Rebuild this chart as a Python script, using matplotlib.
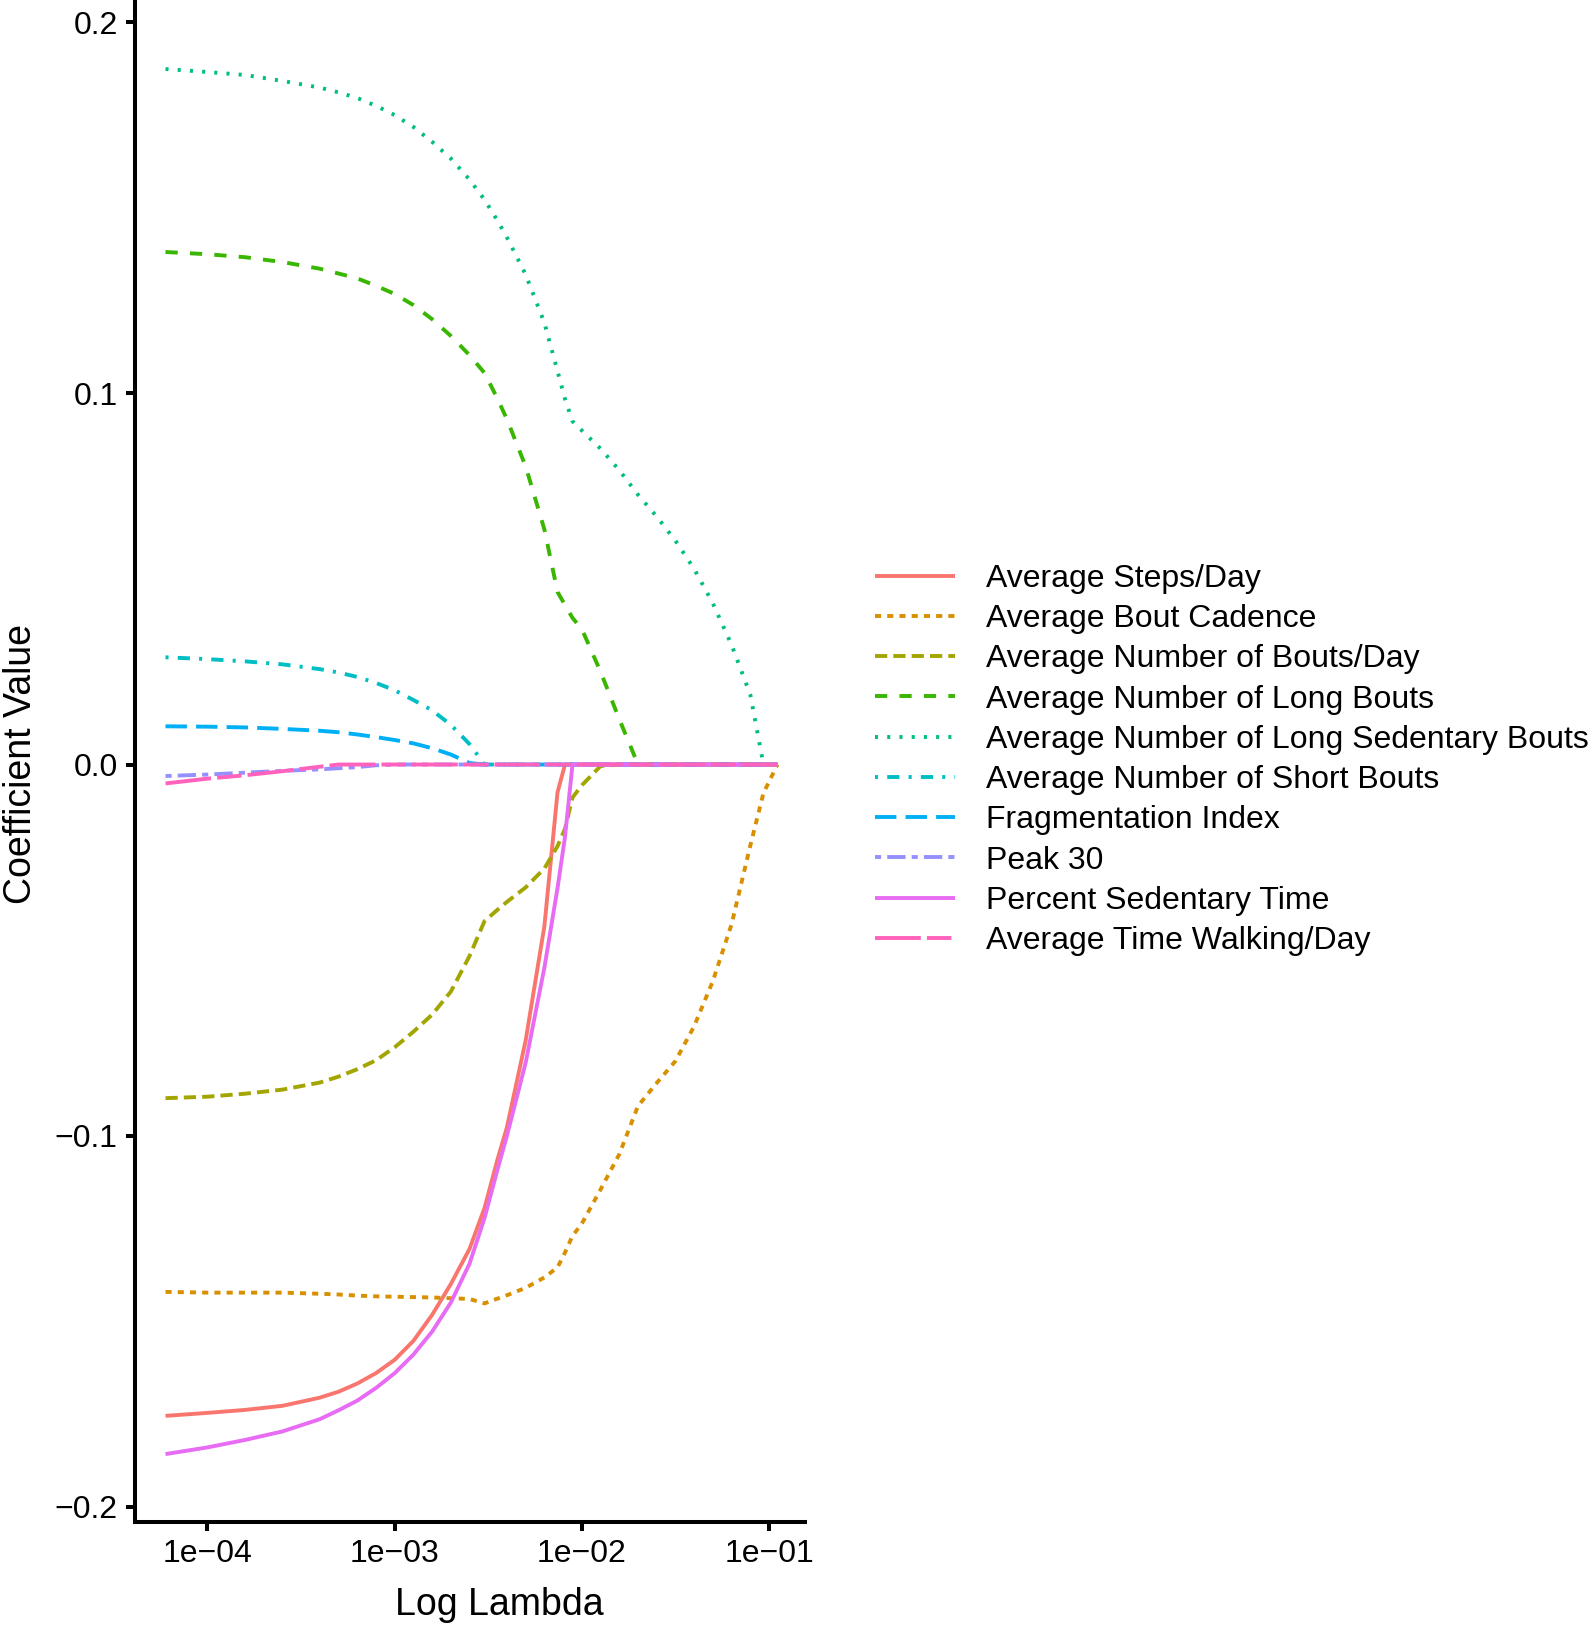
import matplotlib
matplotlib.use("Agg")
import matplotlib.pyplot as plt
import numpy as np

plt.rcParams['font.family'] = ['Liberation Sans', 'DejaVu Sans']
plt.rcParams['lines.scale_dashes'] = False

# ---- data -------------------------------------------------------------
lambdas = [5.97e-5, 1.0e-4, 1.585e-4, 2.512e-4, 3.981e-4, 5.012e-4, 6.31e-4,
           7.943e-4, 1.0e-3, 1.259e-3, 1.585e-3, 1.995e-3, 2.512e-3, 3.020e-3,
           3.548e-3, 3.981e-3, 5.012e-3, 6.31e-3, 7.413e-3, 8.128e-3, 8.913e-3,
           1.0e-2, 1.259e-2, 1.585e-2, 1.995e-2, 2.512e-2, 3.162e-2, 3.981e-2,
           5.012e-2, 6.31e-2, 7.943e-2, 9.333e-2, 1.109e-1]

labels = ["Average Steps/Day", "Average Bout Cadence", "Average Number of Bouts/Day",
          "Average Number of Long Bouts", "Average Number of Long Sedentary Bouts",
          "Average Number of Short Bouts", "Fragmentation Index", "Peak 30",
          "Percent Sedentary Time", "Average Time Walking/Day"]

steps_day = [-0.1755, -0.1747, -0.1739, -0.1728, -0.1706, -0.1690, -0.1668,
             -0.1640, -0.1604, -0.1553, -0.1483, -0.1400, -0.1305, -0.1195,
             -0.1063, -0.0977, -0.0743, -0.0435, -0.0075, 0.0, 0.0,
             0.0, 0.0, 0.0, 0.0, 0.0, 0.0, 0.0, 0.0, 0.0, 0.0, 0.0, 0.0]
bout_cadence = [-0.1421, -0.1423, -0.1423, -0.1423, -0.1426, -0.1428, -0.1431,
                -0.1433, -0.1434, -0.1435, -0.1436, -0.1438, -0.1440, -0.1452,
                -0.1439, -0.1430, -0.1410, -0.1382, -0.1355, -0.1315, -0.1270,
                -0.1237, -0.1145, -0.1050, -0.0920, -0.0858, -0.0799, -0.0705,
                -0.0583, -0.0430, -0.0218, -0.0077, 0.0]
bouts_day = [-0.0899, -0.0895, -0.0887, -0.0876, -0.0857, -0.0841, -0.0821,
             -0.0797, -0.0762, -0.0720, -0.0674, -0.0612, -0.0516, -0.0422,
             -0.0391, -0.0370, -0.0331, -0.0280, -0.0220, -0.0173, -0.0089,
             -0.0056, -0.0004, 0.0, 0.0, 0.0, 0.0, 0.0, 0.0, 0.0, 0.0, 0.0, 0.0]
long_bouts = [0.1381, 0.1375, 0.1367, 0.1354, 0.1336, 0.1323, 0.1310,
              0.1290, 0.1268, 0.1238, 0.1200, 0.1155, 0.1103, 0.1055,
              0.0985, 0.0930, 0.0803, 0.0633, 0.0465, 0.0430, 0.0395,
              0.0365, 0.0250, 0.0122, 0.0, 0.0, 0.0, 0.0, 0.0, 0.0, 0.0, 0.0, 0.0]
long_sed_bouts = [0.1874, 0.1866, 0.1858, 0.1842, 0.1824, 0.1811, 0.1796,
                  0.1775, 0.1750, 0.1718, 0.1678, 0.1633, 0.1576, 0.1522,
                  0.1465, 0.1420, 0.1320, 0.1190, 0.1060, 0.0985, 0.0925,
                  0.0900, 0.0851, 0.0793, 0.0727, 0.0668, 0.0603, 0.0527,
                  0.0434, 0.0322, 0.0188, 0.0, 0.0]
short_bouts = [0.0289, 0.0284, 0.0278, 0.0270, 0.0257, 0.0248, 0.0236,
               0.0220, 0.0200, 0.0174, 0.0146, 0.0107, 0.0055, 0.0,
               0.0, 0.0, 0.0, 0.0, 0.0, 0.0, 0.0, 0.0, 0.0, 0.0, 0.0, 0.0,
               0.0, 0.0, 0.0, 0.0, 0.0, 0.0, 0.0]
fragmentation = [0.0103, 0.0102, 0.0100, 0.0096, 0.0091, 0.0087, 0.0081,
                 0.0074, 0.0066, 0.0057, 0.0044, 0.0027, 0.0004, 0.0,
                 0.0, 0.0, 0.0, 0.0, 0.0, 0.0, 0.0, 0.0, 0.0, 0.0, 0.0, 0.0,
                 0.0, 0.0, 0.0, 0.0, 0.0, 0.0, 0.0]
peak30 = [-0.0031, -0.0027, -0.0022, -0.0017, -0.0013, -0.0010, -0.0007,
          -0.0002, 0.0, 0.0, 0.0, 0.0, 0.0, 0.0, 0.0, 0.0, 0.0, 0.0, 0.0,
          0.0, 0.0, 0.0, 0.0, 0.0, 0.0, 0.0, 0.0, 0.0, 0.0, 0.0, 0.0, 0.0, 0.0]
pct_sedentary = [-0.1858, -0.1840, -0.1820, -0.1797, -0.1764, -0.1740, -0.1714,
                 -0.1680, -0.1640, -0.1590, -0.1528, -0.1450, -0.1345, -0.1222,
                 -0.1090, -0.1000, -0.0803, -0.0547, -0.0333, -0.0195, 0.0,
                 0.0, 0.0, 0.0, 0.0, 0.0, 0.0, 0.0, 0.0, 0.0, 0.0, 0.0, 0.0]
time_walking = [-0.0051, -0.0038, -0.0029, -0.0018, -0.0006, 0.0, 0.0,
                0.0, 0.0, 0.0, 0.0, 0.0, 0.0, 0.0, 0.0, 0.0, 0.0, 0.0, 0.0,
                0.0, 0.0, 0.0, 0.0, 0.0, 0.0, 0.0, 0.0, 0.0, 0.0, 0.0, 0.0, 0.0, 0.0]

series = [steps_day, bout_cadence, bouts_day, long_bouts, long_sed_bouts,
          short_bouts, fragmentation, peak30, pct_sedentary, time_walking]

x_ticks = [1e-4, 1e-3, 1e-2, 1e-1]
x_ticklabels = ["1e\u221204", "1e\u221203", "1e\u221202", "1e\u221201"]
y_ticks = [-0.2, -0.1, 0.0, 0.1, 0.2]
y_ticklabels = ["\u22120.2", "\u22120.1", "0.0", "0.1", "0.2"]

# ---- styles -----------------------------------------------------------
colors = ["#F8766D", "#D89000", "#A3A500", "#39B600", "#00BF7D",
          "#00BFC4", "#00B0F6", "#9590FF", "#E76BF3", "#FF62BC"]
u = 2.2  # dash unit in points
patterns = [None, (2, 2), (4, 2), (4, 4), (1, 3), (1, 3, 4, 3), (7, 3),
            (2, 2, 6, 2), None, (15, 2, 8, 2)]
LW = 2.8
FS = 23.0

W, H = 1594, 1628
fig = plt.figure(figsize=(W / 100, H / 100), dpi=100)
ax = fig.add_axes([135 / W, (H - 1522) / H, 670 / W, 1522 / H])

handles = []
for vals, col, pat, lab in zip(series, colors, patterns, labels):
    if pat is None:
        ls = '-'
    else:
        ls = (0, tuple(p * u for p in pat))
    ln, = ax.plot(lambdas, vals, color=col, lw=LW, linestyle=ls, label=lab,
                  solid_capstyle='butt', dash_capstyle='butt')
    handles.append(ln)

ax.set_xscale('log')
ax.set_xlim(10 ** -4.387, 10 ** -0.808)
ax.set_ylim(-0.2041, 0.206)
ax.set_xticks(x_ticks)
ax.set_xticklabels(x_ticklabels)
ax.xaxis.set_minor_locator(matplotlib.ticker.NullLocator())
ax.set_yticks(y_ticks)
ax.set_yticklabels(y_ticklabels)

for s in ['top', 'right']:
    ax.spines[s].set_visible(False)
for s in ['left', 'bottom']:
    ax.spines[s].set_linewidth(2.9)
    ax.spines[s].set_color('black')
    ax.spines[s].set_capstyle('projecting')
ax.tick_params(axis='both', which='major', length=6.5, width=2.9, color='black',
               labelsize=FS, labelcolor='black', pad=6)

fig.text(499 / W, 1 - 1615 / H, "Log Lambda", ha='center', va='baseline', fontsize=27)
fig.text(21 / W, 1 - 764 / H, "Coefficient Value", ha='center', va='center',
         rotation=90, fontsize=27)

leg = fig.legend(handles=handles, labels=labels, loc='upper left',
                 bbox_to_anchor=(875 / W, 1 - 564 / H), frameon=False,
                 fontsize=FS, handlelength=80 / 32.0, handletextpad=0.97,
                 labelspacing=0.32, borderpad=0, borderaxespad=0)

fig.savefig("out.png", dpi=100, facecolor='white')
